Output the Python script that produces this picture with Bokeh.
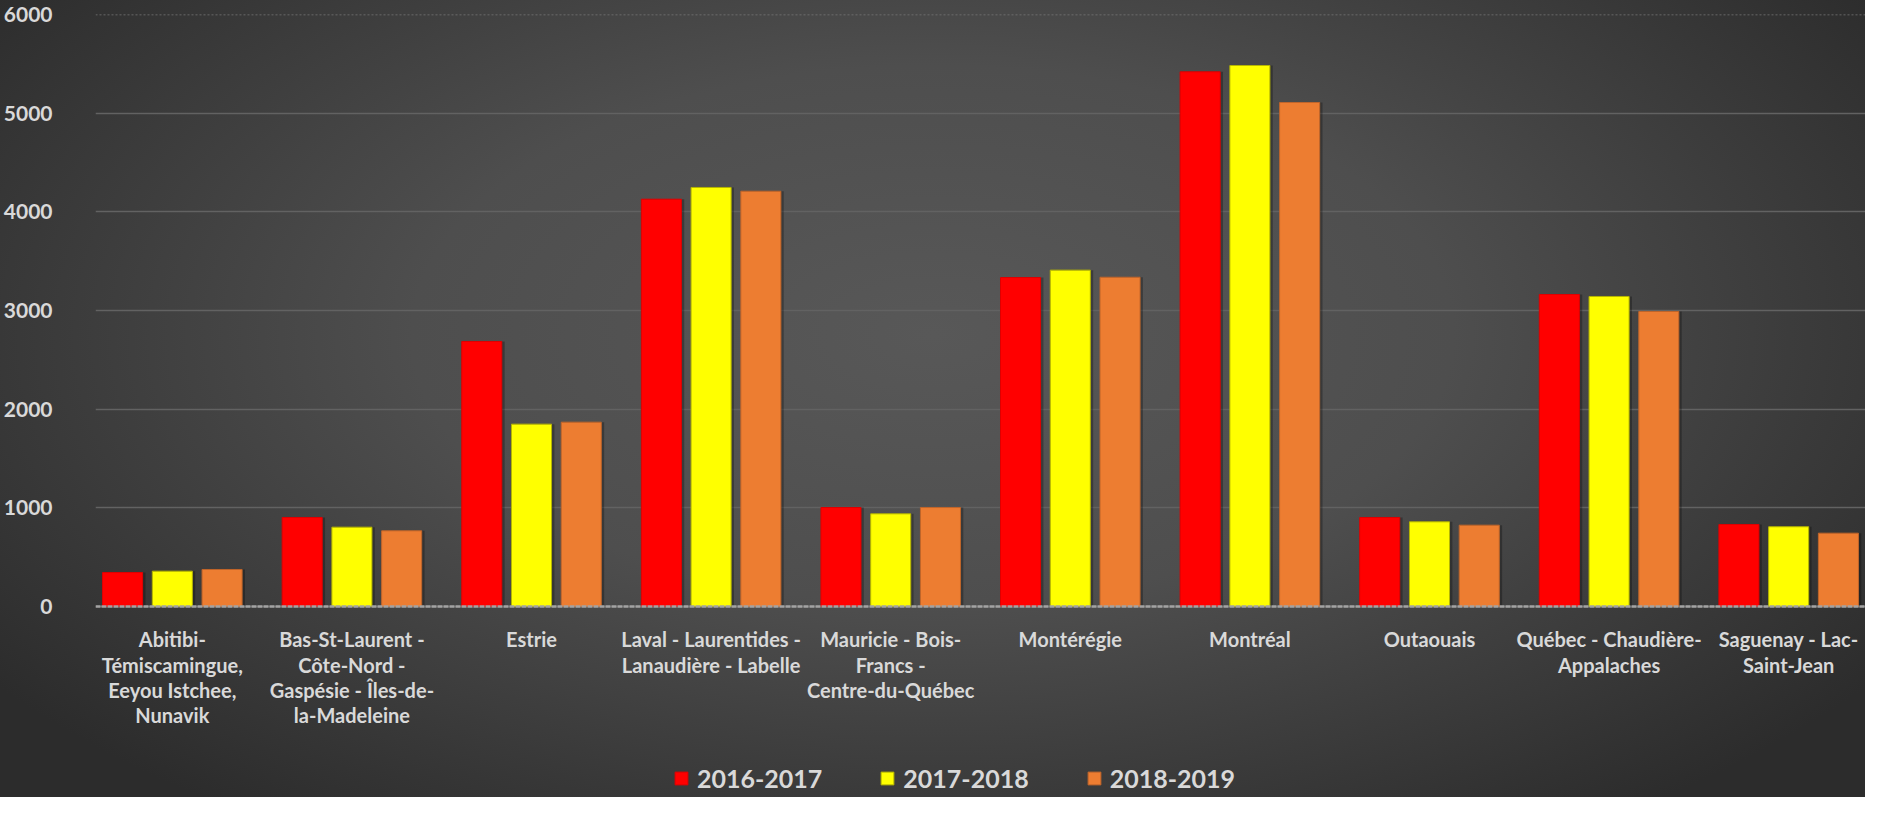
from bokeh.plotting import figure
from bokeh.models import (ColumnDataSource, FactorRange, Range1d, Legend, LegendItem,
                          Span, InlineStyleSheet, FixedTicker)
from bokeh.core.properties import value
from bokeh.transform import dodge
from bokeh.embed import file_html
from bokeh.resources import INLINE

# ---- data ----
categories = [
    "Abitibi-Témiscamingue, Eeyou Istchee, Nunavik",
    "Bas-St-Laurent - Côte-Nord - Gaspésie - Îles-de-la-Madeleine",
    "Estrie",
    "Laval - Laurentides - Lanaudière - Labelle",
    "Mauricie - Bois-Francs - Centre-du-Québec",
    "Montérégie",
    "Montréal",
    "Outaouais",
    "Québec - Chaudière-Appalaches",
    "Saguenay - Lac-Saint-Jean",
]
tick_labels = [
    "Abitibi-\nTémiscamingue,\nEeyou Istchee,\nNunavik",
    "Bas-St-Laurent -\nCôte-Nord -\nGaspésie - Îles-de-\nla-Madeleine",
    "Estrie",
    "Laval - Laurentides -\nLanaudière - Labelle",
    "Mauricie - Bois-\nFrancs -\nCentre-du-Québec",
    "Montérégie",
    "Montréal",
    "Outaouais",
    "Québec - Chaudière-\nAppalaches",
    "Saguenay - Lac-\nSaint-Jean",
]
y_ticks = [0, 1000, 2000, 3000, 4000, 5000, 6000]
years = ["2016-2017", "2017-2018", "2018-2019"]
v_2016_2017 = [344, 902, 2686, 4128, 1003, 3334, 5419, 902, 3162, 831]
v_2017_2018 = [358, 804, 1848, 4247, 939, 3409, 5483, 858, 3142, 808]
v_2018_2019 = [375, 767, 1868, 4209, 1003, 3337, 5108, 824, 2990, 743]

colors = ["#FF0000", "#FFFF00", "#ED7D31"]
outlines = ["#E00000", "#B5B500", "#C0652A"]

source = ColumnDataSource(dict(cat=tick_labels, a=v_2016_2017, b=v_2017_2018, c=v_2018_2019))

FONT = "Lato"
TXT = "#D9D9D9"

# frame spans the full height below the top margin; the region below 0 holds
# the category labels and the legend (0 sits 191px above the bottom edge).
# The original chart is cropped at its right edge, hence the negative padding.
p = figure(
    x_range=FactorRange(*tick_labels, range_padding=-0.0722, range_padding_units="absolute"),
    y_range=Range1d(-1936, 6000),
    width=1865, height=797, output_backend="svg", toolbar_location=None,
    x_axis_location=None,
    min_border_left=91, min_border_right=0, min_border_top=14, min_border_bottom=0,
)
p.stylesheets = [InlineStyleSheet(css=":host { background: radial-gradient(ellipse 62% 75% at 50% 42%, #585858 0%, #4e4e4e 45%, #2c2c2c 100%); }")]
p.background_fill_color = None
p.border_fill_color = None
p.outline_line_color = None

width = 0.223
offsets = [-0.277, 0.0, 0.277]
cols = ["a", "b", "c"]
items = []
for col, off, fc, lc, yr in zip(cols, offsets, colors, outlines, years):
    # soft shadow
    p.vbar(x=dodge("cat", off + 0.01, range=p.x_range), top=col, width=width + 0.012,
           source=source, fill_color="black", fill_alpha=0.28, line_color=None)
    r = p.vbar(x=dodge("cat", off, range=p.x_range), top=col, width=width,
               source=source, fill_color=fc, line_color=lc, line_width=1)
    items.append(LegendItem(label=yr, renderers=[r]))

# grid
p.xgrid.grid_line_color = None
p.ygrid.grid_line_color = "#626262"
p.ygrid.grid_line_width = 1.5
p.add_layout(Span(location=6000, dimension="width", line_color="#777777",
                  line_width=1.5, line_dash="2 2"))
# category axis line at 0
p.add_layout(Span(location=0, dimension="width", line_color="#A3A3A3",
                  line_width=2.5, line_dash="5 1"))

# y axis
p.yaxis.ticker = FixedTicker(ticks=y_ticks)
p.yaxis.axis_line_color = None
p.yaxis.major_tick_line_color = None
p.yaxis.minor_tick_line_color = None
p.yaxis.major_label_text_font = FONT
p.yaxis.major_label_text_font_style = "bold"
p.yaxis.major_label_text_font_size = "21px"
p.yaxis.major_label_text_color = TXT
p.yaxis.major_label_standoff = 37

# category labels
p.text(x="cat", y=-212, text="cat", source=source,
       text_font=value(FONT), text_font_style="bold", text_font_size="20px",
       text_color=TXT, text_align="center", text_baseline="top",
       text_line_height=1.05)

legend = Legend(items=items, orientation="horizontal", location=(578, 4),
                padding=0, margin=0, spacing=57, label_standoff=8,
                glyph_width=16, glyph_height=16,
                background_fill_alpha=0, border_line_color=None,
                label_text_font=FONT, label_text_font_style="bold",
                label_text_font_size="25px", label_text_color=TXT)
p.add_layout(legend, "center")

open("out.html", "w").write(file_html(p, INLINE))
